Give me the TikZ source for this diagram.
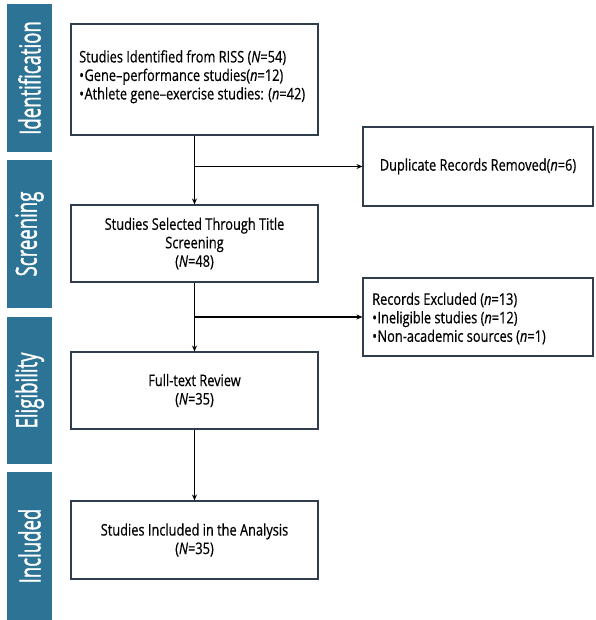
\documentclass[tikz,border=0pt]{standalone}
\usepackage{fontspec}
\setmainfont{Open Sans}[FakeStretch=0.8,FakeBold=0.5]
\newfontfamily\sidefont{Open Sans}[FakeBold=1.6]
\usetikzlibrary{arrows.meta}
\definecolor{barblue}{HTML}{2C7395}
\definecolor{boxline}{HTML}{2F3D4C}
\tikzset{
  sidebar/.style={fill=barblue, draw=none, minimum width=45pt, inner sep=0pt, text=white, font=\sidefont},
  flowbox/.style={draw=boxline, line width=1.1pt, fill=white, minimum width=247pt, inner sep=0pt, font=\fontsize{16}{18.5}\selectfont, align=center},
  sidebox/.style={draw=boxline, line width=1.1pt, fill=white, minimum width=230pt, inner sep=0pt, font=\fontsize{16}{18.5}\selectfont, align=center},
  btext/.style={inner sep=0pt, font=\fontsize{16}{18.5}\selectfont, align=left},
  conn/.style={draw=black, line width=1.1pt, -{Stealth[length=6pt,width=5pt]}},
  plainline/.style={draw=black, line width=1.1pt}
}
\newcommand{\sidelabel}[1]{\rotatebox{90}{\scalebox{0.64}[1]{\fontsize{29}{29}\selectfont #1}}}
\newcommand{\bul}{•\hspace{0.5pt}}
\begin{document}
\begin{tikzpicture}[x=1pt,y=-1pt]
\useasboundingbox (0,0) rectangle (595,620);
% side bars
\node[sidebar, minimum height=148pt] (s1) at (29.5,78) {\sidelabel{Identification}};
\node[sidebar, minimum height=148pt] (s2) at (29.5,234) {\sidelabel{Screening}};
\node[sidebar, minimum height=147pt] (s3) at (29.5,390.5) {\sidelabel{Eligibility}};
\node[sidebar, minimum height=148pt] (s4) at (29.5,546) {\sidelabel{Included}};
% main boxes
\node[flowbox, minimum height=111pt] (b1) at (194.5,79.5) {};
\node[btext, anchor=north west] (t1) at (79,50) {Studies Identified from RISS (\textit{N}=54)\\
\bul Gene–performance studies(\textit{n}=12)\\
\bul Athlete gene–exercise studies: (\textit{n}=42)};
\node[flowbox, minimum height=77pt] (b2) at (194.5,243.5) {Studies Selected Through Title\\ Screening\\ (\textit{N}=48)};
\node[flowbox, minimum height=77pt] (b3) at (194.5,390.5) {Full-text Review\\ (\textit{N}=35)};
\node[flowbox, minimum height=78pt] (b4) at (194.5,540) {Studies Included in the Analysis\\ (\textit{N}=35)};
% side boxes
\node[sidebox, minimum height=79pt] (d1) at (478,166.5) {Duplicate Records Removed(\textit{n}=6)};
\node[sidebox, minimum height=78pt] (e1) at (478,317) {};
\node[btext, anchor=west] (t2) at (372,318.5) {Records Excluded (\textit{n}=13)\\
\bul Ineligible studies (\textit{n}=12)\\
\bul Non-academic sources (\textit{n}=1)};
% connectors
\coordinate (j1) at (194.5,166.5);
\coordinate (j2) at (194.5,317);
\draw[conn] (b1.south) -- (b2.north);
\draw[conn] (j1) -- (d1.west);
\draw[conn] (b2.south) -- (b3.north);
\draw[conn] (j2) -- (e1.west);
\draw[conn] (b3.south) -- (b4.north);
\end{tikzpicture}
\end{document}
